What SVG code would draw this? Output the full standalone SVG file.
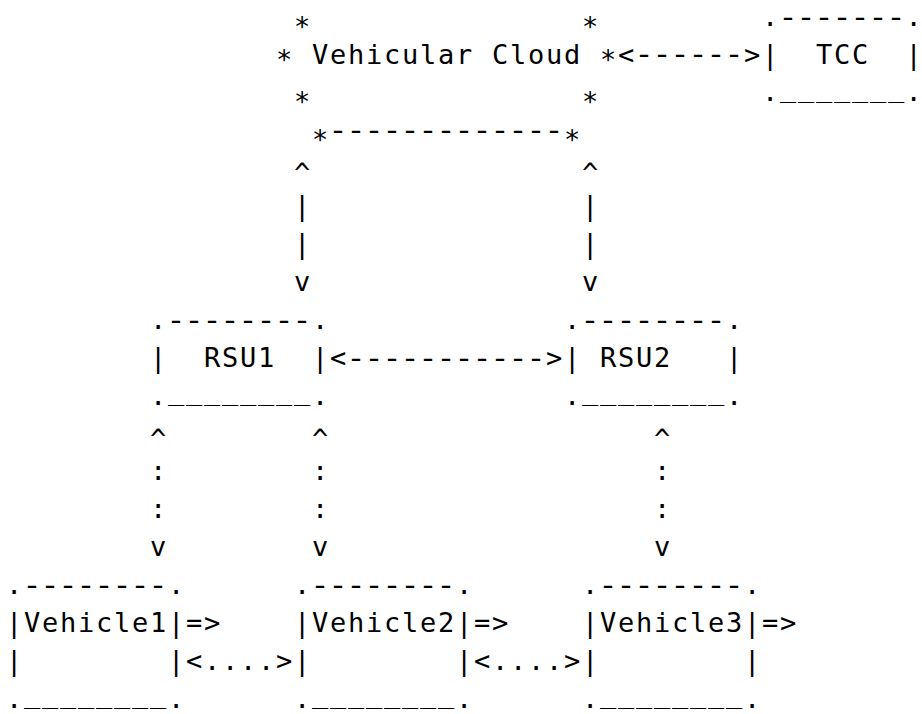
<svg xmlns="http://www.w3.org/2000/svg" width="922" height="714" viewBox="0 0 922 714" xml:space="preserve">
<style>
  text { font-family: "DejaVu Sans Mono", "Liberation Mono", monospace; font-size: 27px; letter-spacing: 1.75px; fill: #000; white-space: pre; }
  /* single characters: no trailing spacing */
  text.s { letter-spacing: 0; }
  /* hyphen runs are stretched so each dash fills most of its cell */
  text.d { letter-spacing: -1.25px; }
</style>
<rect x="0" y="0" width="922" height="714" fill="#fff"/>
<!-- grid: column c starts at x = 5.9 + 18c, row r baseline at y = 25.6 + 37.9r;
     dash runs start with translate(4.25 + 18c) scale(1.2,1) -->

<g id="vehicular-cloud">
  <text class="s" x="293.9" y="35.6">*</text>
  <text class="s" x="581.9" y="35.6">*</text>
  <text class="s" x="275.9" y="69">*</text>
  <text x="311.9" y="63.5">Vehicular Cloud</text>
  <text class="s" x="599.9" y="69">*</text>
  <text class="s" x="293.9" y="111.4">*</text>
  <text class="s" x="581.9" y="111.4">*</text>
  <text class="s" x="311.9" y="149.3">*</text>
  <text class="d" transform="translate(328.25,0) scale(1.2,1)" x="0" y="139.3">-------------</text>
  <text class="s" x="563.9" y="149.3">*</text>
</g>

<g id="tcc">
  <text class="s" x="761.9" y="25.6">.</text>
  <text class="d" transform="translate(778.25,0) scale(1.2,1)" x="0" y="25.6">-------</text>
  <text class="s" x="905.4" y="25.6">.</text>
  <text x="761.9" y="63.5">|  TCC</text>
  <text class="s" x="905.4" y="63.5">|</text>
  <text class="s" x="761.9" y="101.4">.</text>
  <text x="779.9" y="96.9">_______</text>
  <text class="s" x="905.4" y="101.4">.</text>
</g>

<g id="rsu1">
  <text class="s" x="149.9" y="328.8">.</text>
  <text class="d" transform="translate(166.25,0) scale(1.2,1)" x="0" y="328.8">--------</text>
  <text class="s" x="311.9" y="328.8">.</text>
  <text x="149.9" y="366.7">|  RSU1  </text>
  <text class="s" x="311.9" y="366.7">|</text>
  <text class="s" x="149.9" y="404.6">.</text>
  <text x="167.9" y="400.1">________</text>
  <text class="s" x="311.9" y="404.6">.</text>
</g>

<g id="rsu2">
  <text class="s" x="563.9" y="328.8">.</text>
  <text class="d" transform="translate(580.25,0) scale(1.2,1)" x="0" y="328.8">--------</text>
  <text class="s" x="725.9" y="328.8">.</text>
  <text class="s" x="563.9" y="366.7">|</text>
  <text x="599.9" y="366.7">RSU2</text>
  <text class="s" x="725.9" y="366.7">|</text>
  <text class="s" x="563.9" y="404.6">.</text>
  <text x="581.9" y="400.1">________</text>
  <text class="s" x="725.9" y="404.6">.</text>
</g>

<g id="vehicle1">
  <text class="s" x="5.9" y="594.1">.</text>
  <text class="d" transform="translate(22.25,0) scale(1.2,1)" x="0" y="594.1">--------</text>
  <text class="s" x="167.9" y="594.1">.</text>
  <text x="5.9" y="632">|Vehicle1|</text>
  <text class="s" x="5.9" y="669.9">|</text>
  <text class="s" x="167.9" y="669.9">|</text>
  <text class="s" x="5.9" y="707.8">.</text>
  <text x="23.9" y="703.3">________</text>
  <text class="s" x="167.9" y="707.8">.</text>
</g>

<g id="vehicle2">
  <text class="s" x="293.9" y="594.1">.</text>
  <text class="d" transform="translate(310.25,0) scale(1.2,1)" x="0" y="594.1">--------</text>
  <text class="s" x="455.9" y="594.1">.</text>
  <text x="293.9" y="632">|Vehicle2|</text>
  <text class="s" x="293.9" y="669.9">|</text>
  <text class="s" x="455.9" y="669.9">|</text>
  <text class="s" x="293.9" y="707.8">.</text>
  <text x="311.9" y="703.3">________</text>
  <text class="s" x="455.9" y="707.8">.</text>
</g>

<g id="vehicle3">
  <text class="s" x="581.9" y="594.1">.</text>
  <text class="d" transform="translate(598.25,0) scale(1.2,1)" x="0" y="594.1">--------</text>
  <text class="s" x="743.9" y="594.1">.</text>
  <text x="581.9" y="632">|Vehicle3|</text>
  <text class="s" x="581.9" y="669.9">|</text>
  <text class="s" x="743.9" y="669.9">|</text>
  <text class="s" x="581.9" y="707.8">.</text>
  <text x="599.9" y="703.3">________</text>
  <text class="s" x="743.9" y="707.8">.</text>
</g>

<g id="connectors">
  <!-- cloud to TCC -->
  <text class="s" x="617.9" y="63.5">&lt;</text>
  <text class="d" transform="translate(634.25,0) scale(1.2,1)" x="0" y="63.5">------</text>
  <text class="s" x="743.9" y="63.5">&gt;</text>

  <!-- cloud to RSU1 / RSU2 -->
  <text class="s" x="293.9" y="182.2">^</text>
  <text class="s" x="293.9" y="215.1">|</text>
  <text class="s" x="293.9" y="253">|</text>
  <text class="s" x="293.9" y="290.9">v</text>
  <text class="s" x="581.9" y="182.2">^</text>
  <text class="s" x="581.9" y="215.1">|</text>
  <text class="s" x="581.9" y="253">|</text>
  <text class="s" x="581.9" y="290.9">v</text>

  <!-- RSU1 to RSU2 -->
  <text class="s" x="329.9" y="366.7">&lt;</text>
  <text class="d" transform="translate(346.25,0) scale(1.2,1)" x="0" y="366.7">-----------</text>
  <text class="s" x="545.9" y="366.7">&gt;</text>

  <!-- RSUs to vehicles -->
  <text class="s" x="149.9" y="447.5">^</text>
  <text class="s" x="149.9" y="480.4">:</text>
  <text class="s" x="149.9" y="518.3">:</text>
  <text class="s" x="149.9" y="556.2">v</text>
  <text class="s" x="311.9" y="447.5">^</text>
  <text class="s" x="311.9" y="480.4">:</text>
  <text class="s" x="311.9" y="518.3">:</text>
  <text class="s" x="311.9" y="556.2">v</text>
  <text class="s" x="653.9" y="447.5">^</text>
  <text class="s" x="653.9" y="480.4">:</text>
  <text class="s" x="653.9" y="518.3">:</text>
  <text class="s" x="653.9" y="556.2">v</text>

  <!-- vehicle to vehicle -->
  <text x="185.9" y="632">=&gt;</text>
  <text x="473.9" y="632">=&gt;</text>
  <text x="761.9" y="632">=&gt;</text>
  <text x="185.9" y="669.9">&lt;....&gt;</text>
  <text x="473.9" y="669.9">&lt;....&gt;</text>
</g>
</svg>
